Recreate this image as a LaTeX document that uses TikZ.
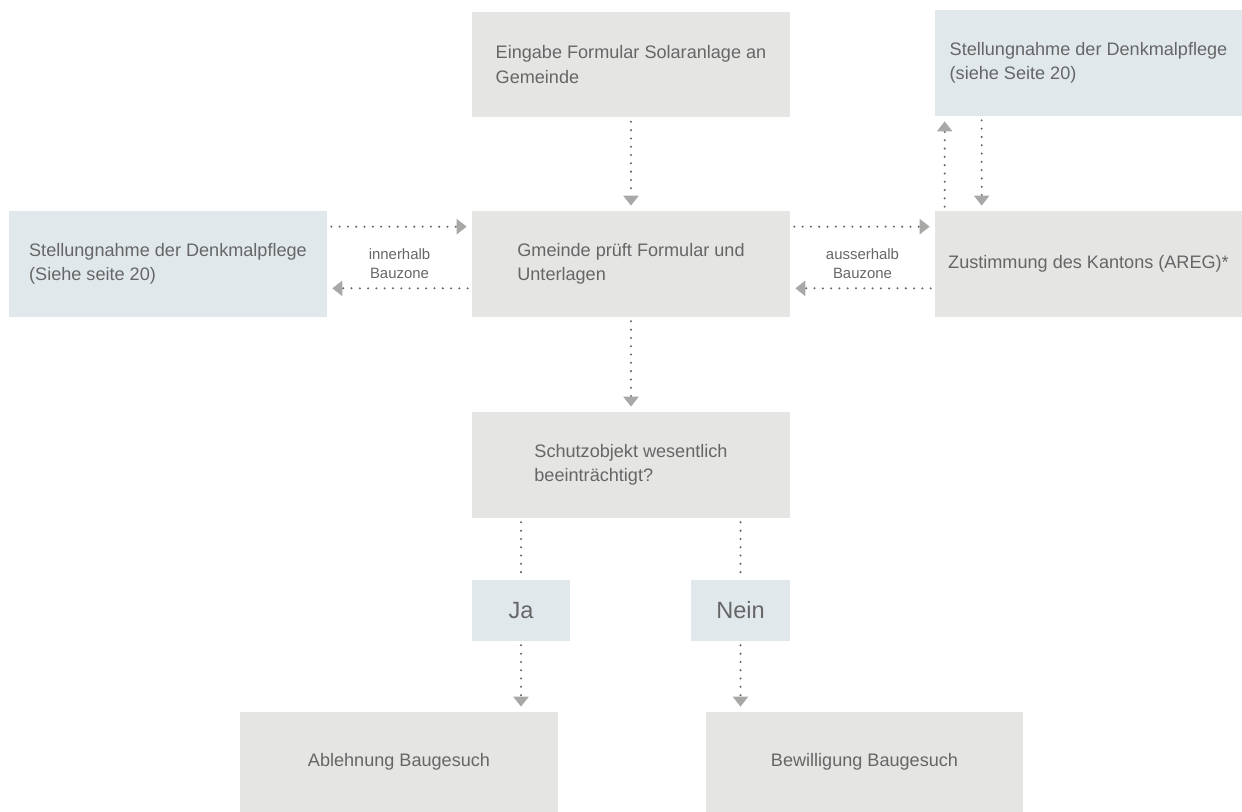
\documentclass[tikz,border=0pt]{standalone}
\usepackage{fontspec}
\setmainfont{Liberation Sans}
\usetikzlibrary{calc}
\usetikzlibrary{arrows.meta}
\definecolor{boxgray}{HTML}{E5E5E4}
\definecolor{boxblue}{HTML}{E1E8EC}
\definecolor{textgray}{HTML}{666666}
\definecolor{dotgray}{HTML}{666666}
\definecolor{tipgray}{HTML}{A8A8A6}

\tikzset{
  box/.style={fill=boxgray, inner sep=0pt, align=left, text=textgray,
    font=\fontsize{10.3}{13.8}\selectfont, minimum width=6.36cm, minimum height=2.12cm},
  bluebox/.style={box, fill=boxblue},
  answer/.style={bluebox, minimum width=1.98cm, minimum height=1.22cm,
    font=\fontsize{13.4}{16}\selectfont},
  flow/.style={dotgray, line width=1.3pt, line cap=round, dash pattern=on 0pt off 0.166cm,
    -{Triangle[width=0.3cm,length=0.2cm,color=tipgray]}, shorten >=0.1cm, shorten <=0.08cm},
  link/.style={flow, -, shorten >=0pt},
  zone/.style={text=textgray, align=center, font=\fontsize{8.5}{10.8}\selectfont},
}

\begin{document}
\begin{tikzpicture}[x=0.02cm, y=-0.02cm]
\useasboundingbox (0,0) rectangle (1242,812);

% top row
\node[box] (eingabe) at (631,64.5) {Eingabe Formular Solaranlage an\\Gemeinde};
\node[bluebox, minimum width=6.14cm] (denkmalO) at (1088.5,63) {Stellungnahme der Denkmalpflege\\(siehe Seite 20)};

% middle row
\node[bluebox] (denkmalL) at (168,264) {Stellungnahme der Denkmalpflege\\(Siehe seite 20)};
\node[box] (pruef) at (631,264) {Gmeinde prüft Formular und\\Unterlagen};
\node[box, minimum width=6.14cm] (kanton) at (1088.5,264) {Zustimmung des Kantons (AREG)*};

\node[zone] (innen) at ($(denkmalL.east)!0.5!(pruef.west)$) {innerhalb\\Bauzone};
\node[zone] (aussen) at ($(pruef.east)!0.5!(kanton.west)$) {ausserhalb\\Bauzone};

% question
\node[box] (schutz) at (631,465) {Schutzobjekt wesentlich\\beeinträchtigt?};
\node[answer] (ja) at (521,610.5) {Ja};
\node[answer] (nein) at (740.5,610.5) {Nein};

% result
\node[box, minimum height=2cm] (ablehnung) at (399,762) {Ablehnung Baugesuch};
\node[box, minimum height=2cm] (bewilligung) at (864.5,762) {Bewilligung Baugesuch};

% arrows
\draw[flow] (eingabe) -- (pruef);
\draw[flow] (pruef) -- (schutz);

\draw[flow] ($(denkmalL.north east)+(0,16)$) -- ($(pruef.north west)+(0,16)$);
\draw[flow] ($(pruef.south west)+(0,-29)$) -- ($(denkmalL.south east)+(0,-29)$);

\draw[flow] ($(pruef.north east)+(0,16)$) -- ($(kanton.north west)+(0,16)$);
\draw[flow] ($(kanton.south west)+(0,-29)$) -- ($(pruef.south east)+(0,-29)$);

\draw[flow] ($(kanton.north west)+(10,0)$) -- ($(denkmalO.south west)+(10,0)$);
\draw[flow] ($(denkmalO.south west)+(47,0)$) -- ($(kanton.north west)+(47,0)$);

\draw[link] (ja.north |- schutz.south) -- (ja.north);
\draw[flow] (ja.south) -- (ja.south |- ablehnung.north);
\draw[link] (nein.north |- schutz.south) -- (nein.north);
\draw[flow] (nein.south) -- (nein.south |- bewilligung.north);

\end{tikzpicture}
\end{document}
